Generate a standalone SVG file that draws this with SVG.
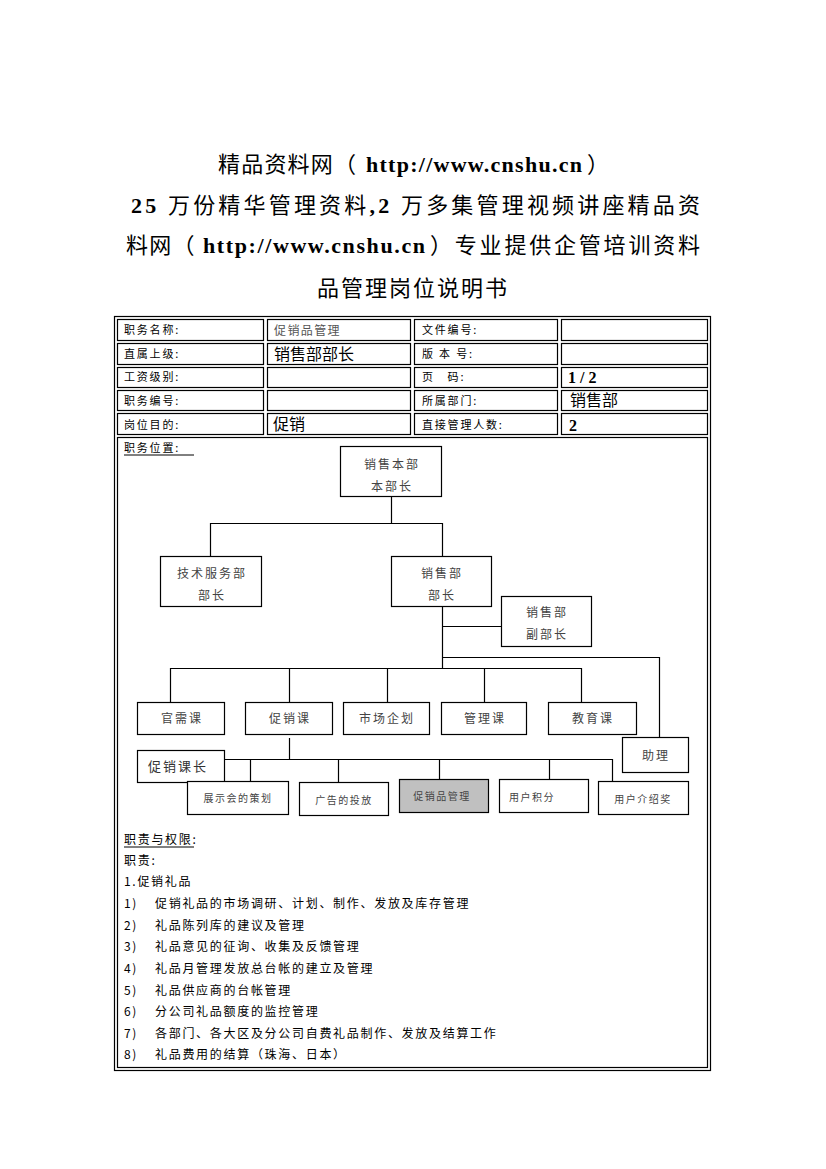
<svg xmlns="http://www.w3.org/2000/svg" width="826" height="1169" viewBox="0 0 826 1169">
<style>
.t{font-family:"Liberation Serif","Noto Sans CJK SC",serif;fill:#000;font-size:22px}
.tc{font-family:"Noto Sans CJK SC","Liberation Serif",serif;fill:#000;font-size:22px}
.tu{font-family:"Liberation Serif",serif;font-weight:bold;fill:#000;font-size:22px}
.lb{font-family:"Noto Sans CJK SC",sans-serif;font-size:11px;letter-spacing:1.8px;fill:#000}
.big{font-family:"Noto Sans CJK SC",sans-serif;font-size:16px;fill:#000}
.num{font-family:"Liberation Serif",serif;font-size:16px;font-weight:bold;fill:#000}
.cell{fill:none;stroke:#000;stroke-width:1.2}
.box{fill:#fff;stroke:#000;stroke-width:1.2}
.nt{font-family:"Noto Sans CJK SC",sans-serif;font-size:12px;letter-spacing:2px;fill:#444;text-anchor:middle}
.nts{font-family:"Noto Sans CJK SC",sans-serif;font-size:10px;letter-spacing:1.5px;fill:#444;text-anchor:middle}
.ln{fill:none;stroke:#000;stroke-width:1.2}
.bt{font-family:"Noto Sans CJK SC",sans-serif;font-size:12px;letter-spacing:1.7px;fill:#000}
</style>

<g id="title">
<text class="tc" x="218" y="172" letter-spacing="1.2">精品资料网（</text>
<text class="tu" x="366" y="172" textLength="216" lengthAdjust="spacing">http://www.cnshu.cn</text>
<text class="tc" x="587" y="172">）</text>
<text class="t" x="131" y="213" textLength="569" lengthAdjust="spacing"><tspan font-weight="bold">25 </tspan>万份精华管理资料<tspan font-weight="bold">,2 </tspan>万多集管理视频讲座精品资</text>
<text class="tc" x="126" y="253" letter-spacing="1.2">料网（</text>
<text class="tu" x="203" y="253" textLength="222" lengthAdjust="spacing">http://www.cnshu.cn</text>
<text class="tc" x="430" y="253" textLength="270" lengthAdjust="spacing">）专业提供企管培训资料</text>
<text class="tc" x="413" y="296" text-anchor="middle" letter-spacing="2">品管理岗位说明书</text>
</g>

<g id="table">
<rect x="114.5" y="316.5" width="596" height="754" class="cell"/>
<rect x="117.5" y="319.5" width="146" height="21" class="cell"/>
<rect x="267.5" y="319.5" width="143" height="21" class="cell"/>
<rect x="414.5" y="319.5" width="143" height="21" class="cell"/>
<rect x="561.5" y="319.5" width="146" height="21" class="cell"/>
<rect x="117.5" y="343.5" width="146" height="21" class="cell"/>
<rect x="267.5" y="343.5" width="143" height="21" class="cell"/>
<rect x="414.5" y="343.5" width="143" height="21" class="cell"/>
<rect x="561.5" y="343.5" width="146" height="21" class="cell"/>
<rect x="117.5" y="367.5" width="146" height="20" class="cell"/>
<rect x="267.5" y="367.5" width="143" height="20" class="cell"/>
<rect x="414.5" y="367.5" width="143" height="20" class="cell"/>
<rect x="561.5" y="367.5" width="146" height="20" class="cell"/>
<rect x="117.5" y="390.5" width="146" height="20" class="cell"/>
<rect x="267.5" y="390.5" width="143" height="20" class="cell"/>
<rect x="414.5" y="390.5" width="143" height="20" class="cell"/>
<rect x="561.5" y="390.5" width="146" height="20" class="cell"/>
<rect x="117.5" y="413.5" width="146" height="21" class="cell"/>
<rect x="267.5" y="413.5" width="143" height="21" class="cell"/>
<rect x="414.5" y="413.5" width="143" height="21" class="cell"/>
<rect x="561.5" y="413.5" width="146" height="21" class="cell"/>
<rect x="117.5" y="437.5" width="590" height="630" class="cell"/>

<text class="lb" x="124" y="334">职务名称:</text>
<text x="274" y="335" font-family="Noto Sans CJK SC,sans-serif" font-size="12" letter-spacing="1.4" fill="#555">促销品管理</text>
<text class="lb" x="422" y="334">文件编号:</text>
<text class="lb" x="124" y="358">直属上级:</text>
<text class="big" x="274" y="360">销售部部长</text>
<text class="lb" x="422" y="358" xml:space="preserve">版 本 号:</text>
<text class="lb" x="124" y="381">工资级别:</text>
<text class="lb" x="422" y="381" xml:space="preserve">页   码:</text>
<text class="num" x="568" y="383">1 / 2</text>
<text class="lb" x="124" y="405">职务编号:</text>
<text class="lb" x="422" y="405">所属部门:</text>
<text class="big" x="570" y="406">销售部</text>
<text class="lb" x="124" y="429">岗位目的:</text>
<text class="big" x="273" y="430">促销</text>
<text class="lb" x="422" y="429">直接管理人数:</text>
<text class="num" x="569" y="431">2</text>
</g>

<g id="section-label">
<text class="lb" x="124" y="452">职务位置:</text>
<line x1="124" y1="455" x2="194" y2="455" stroke="#000" stroke-width="1"/>
</g>

<g id="connectors">
<path class="ln" d="M391.5 496 V523 M210.5 556 V523.5 H442.5 V556"/>
<path class="ln" d="M442.5 606 V668.5 M442 626.5 H501 M442.5 657.5 H659.5 V737"/>
<path class="ln" d="M170.5 702 V668.5 H581.5 V702 M289.5 668.5 V702 M387.5 668.5 V702 M484.5 668.5 V702"/>
<path class="ln" d="M289.5 738 V759.5 M225 759.5 H612.5 V781 M250.5 759.5 V781 M338.5 759.5 V782 M439.5 759.5 V779 M549.5 759.5 V779"/>
</g>

<g id="n-xsbb"><rect class="box" x="340.5" y="446.5" width="101" height="50"/><text class="nt" x="392" y="469">销售本部</text><text class="nt" x="392" y="491">本部长</text></g>
<g id="n-jsfw"><rect class="box" x="160.5" y="556.5" width="101" height="50"/><text class="nt" x="212" y="578">技术服务部</text><text class="nt" x="212" y="600">部长</text></g>
<g id="n-xsb"><rect class="box" x="391.5" y="556.5" width="100" height="50"/><text class="nt" x="442" y="578">销售部</text><text class="nt" x="442" y="600">部长</text></g>
<g id="n-fbz"><rect class="box" x="501.5" y="596.5" width="90" height="50"/><text class="nt" x="547" y="617">销售部</text><text class="nt" x="547" y="639">副部长</text></g>

<g id="n-gxk"><rect class="box" x="137.5" y="702.5" width="87" height="32"/><text class="nt" x="182" y="723">官需课</text></g>
<g id="n-cxk"><rect class="box" x="245.5" y="702.5" width="87" height="32"/><text class="nt" x="290" y="723">促销课</text></g>
<g id="n-scqh"><rect class="box" x="343.5" y="702.5" width="86" height="32"/><text class="nt" x="387" y="723">市场企划</text></g>
<g id="n-glk"><rect class="box" x="441.5" y="702.5" width="85" height="32"/><text class="nt" x="485" y="723">管理课</text></g>
<g id="n-jyk"><rect class="box" x="548.5" y="702.5" width="88" height="32"/><text class="nt" x="593" y="723">教育课</text></g>
<g id="n-zl"><rect class="box" x="622.5" y="737.5" width="66" height="35"/><text class="nt" x="656" y="760" font-size="13">助理</text></g>

<g id="n-cxkz"><rect class="box" x="137.5" y="750.5" width="87" height="32"/><text x="148" y="771" font-family="Noto Sans CJK SC,sans-serif" font-size="13" letter-spacing="2" fill="#333">促销课长</text></g>
<g id="n-zsh"><rect class="box" x="187.5" y="781.5" width="101" height="33"/><text class="nts" x="238" y="802">展示会的策划</text></g>
<g id="n-gg"><rect class="box" x="299.5" y="782.5" width="89" height="33"/><text class="nts" x="344" y="804">广告的投放</text></g>
<g id="n-cxp"><rect x="399.5" y="779.5" width="89" height="33" fill="#c0c0c0" stroke="#000" stroke-width="1.2"/><text class="nts" x="442" y="800">促销品管理</text></g>
<g id="n-yhjf"><rect class="box" x="499.5" y="779.5" width="89" height="33"/><text class="nts" x="532" y="801">用户积分</text></g>
<g id="n-yhjs"><rect class="box" x="598.5" y="781.5" width="90" height="33"/><text class="nts" x="643" y="803">用户介绍奖</text></g>

<g id="duties">
<text class="bt" x="124" y="844">职责与权限:</text>
<line x1="124" y1="847" x2="194" y2="847" stroke="#000" stroke-width="1"/>
<text class="bt" x="124" y="865">职责:</text>
<text class="bt" x="124" y="886">1.促销礼品</text>
<text class="bt" x="124" y="908">1)</text><text class="bt" x="155" y="908">促销礼品的市场调研、计划、制作、发放及库存管理</text>
<text class="bt" x="124" y="930">2)</text><text class="bt" x="155" y="930">礼品陈列库的建议及管理</text>
<text class="bt" x="124" y="951">3)</text><text class="bt" x="155" y="951">礼品意见的征询、收集及反馈管理</text>
<text class="bt" x="124" y="973">4)</text><text class="bt" x="155" y="973">礼品月管理发放总台帐的建立及管理</text>
<text class="bt" x="124" y="995">5)</text><text class="bt" x="155" y="995">礼品供应商的台帐管理</text>
<text class="bt" x="124" y="1016">6)</text><text class="bt" x="155" y="1016">分公司礼品额度的监控管理</text>
<text class="bt" x="124" y="1038">7)</text><text class="bt" x="155" y="1038">各部门、各大区及分公司自费礼品制作、发放及结算工作</text>
<text class="bt" x="124" y="1059">8)</text><text class="bt" x="155" y="1059">礼品费用的结算（珠海、日本）</text>
</g>
</svg>
